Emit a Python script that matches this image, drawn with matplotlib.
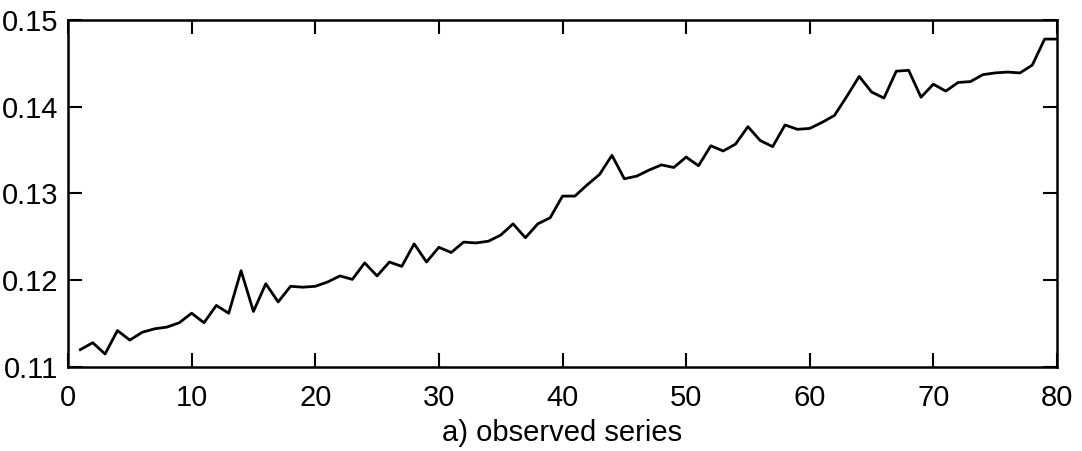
import matplotlib
matplotlib.use("Agg")
import matplotlib.pyplot as plt
import numpy as np

t = list(range(1, 81))
values = [
    0.1120, 0.1128, 0.1115, 0.1142, 0.1131, 0.1140, 0.1144, 0.1146, 0.1151, 0.1162,
    0.1151, 0.1171, 0.1162, 0.1211, 0.1164, 0.1196, 0.1175, 0.1193, 0.1192, 0.1193,
    0.1198, 0.1205, 0.1201, 0.1220, 0.1205, 0.1221, 0.1216, 0.1242, 0.1221, 0.1238,
    0.1232, 0.1244, 0.1243, 0.1245, 0.1252, 0.1265, 0.1249, 0.1265, 0.1272, 0.1297,
    0.1297, 0.1310, 0.1322, 0.1344, 0.1317, 0.1320, 0.1327, 0.1333, 0.1330, 0.1342,
    0.1332, 0.1355, 0.1349, 0.1357, 0.1377, 0.1361, 0.1354, 0.1379, 0.1374, 0.1375,
    0.1382, 0.1390, 0.1412, 0.1435, 0.1417, 0.1410, 0.1441, 0.1442, 0.1411, 0.1426,
    0.1418, 0.1428, 0.1429, 0.1437, 0.1439, 0.1440, 0.1439, 0.1448, 0.1478, 0.1478,
]
xticks = [0, 10, 20, 30, 40, 50, 60, 70, 80]
yticks = [0.11, 0.12, 0.13, 0.14, 0.15]
ytick_labels = ["0.11", "0.12", "0.13", "0.14", "0.15"]
xlabel = "a) observed series"

plt.rcParams['font.family'] = ['Liberation Sans', 'DejaVu Sans']

fig = plt.figure(figsize=(10.82, 4.51), dpi=100)
ax = fig.add_axes([68/1082, (451-367)/451, (1057-68)/1082, (367-20)/451])
ax.plot(t, values, color='black', linewidth=2.0)
ax.set_xlim(0, 80)
ax.set_ylim(0.11, 0.15)
ax.set_xticks(xticks)
ax.set_xticklabels([str(v) for v in xticks])
ax.set_yticks(yticks)
ax.set_yticklabels(ytick_labels)
ax.tick_params(direction='in', length=10, width=1.5, labelsize=21,
               top=True, right=True)
ax.tick_params(axis='x', pad=12)
ax.tick_params(axis='y', pad=7)
for s in ax.spines.values():
    s.set_linewidth(1.8)
ax.set_xlabel(xlabel, fontsize=21, labelpad=5)
fig.savefig("out.png", dpi=100, facecolor='white')
